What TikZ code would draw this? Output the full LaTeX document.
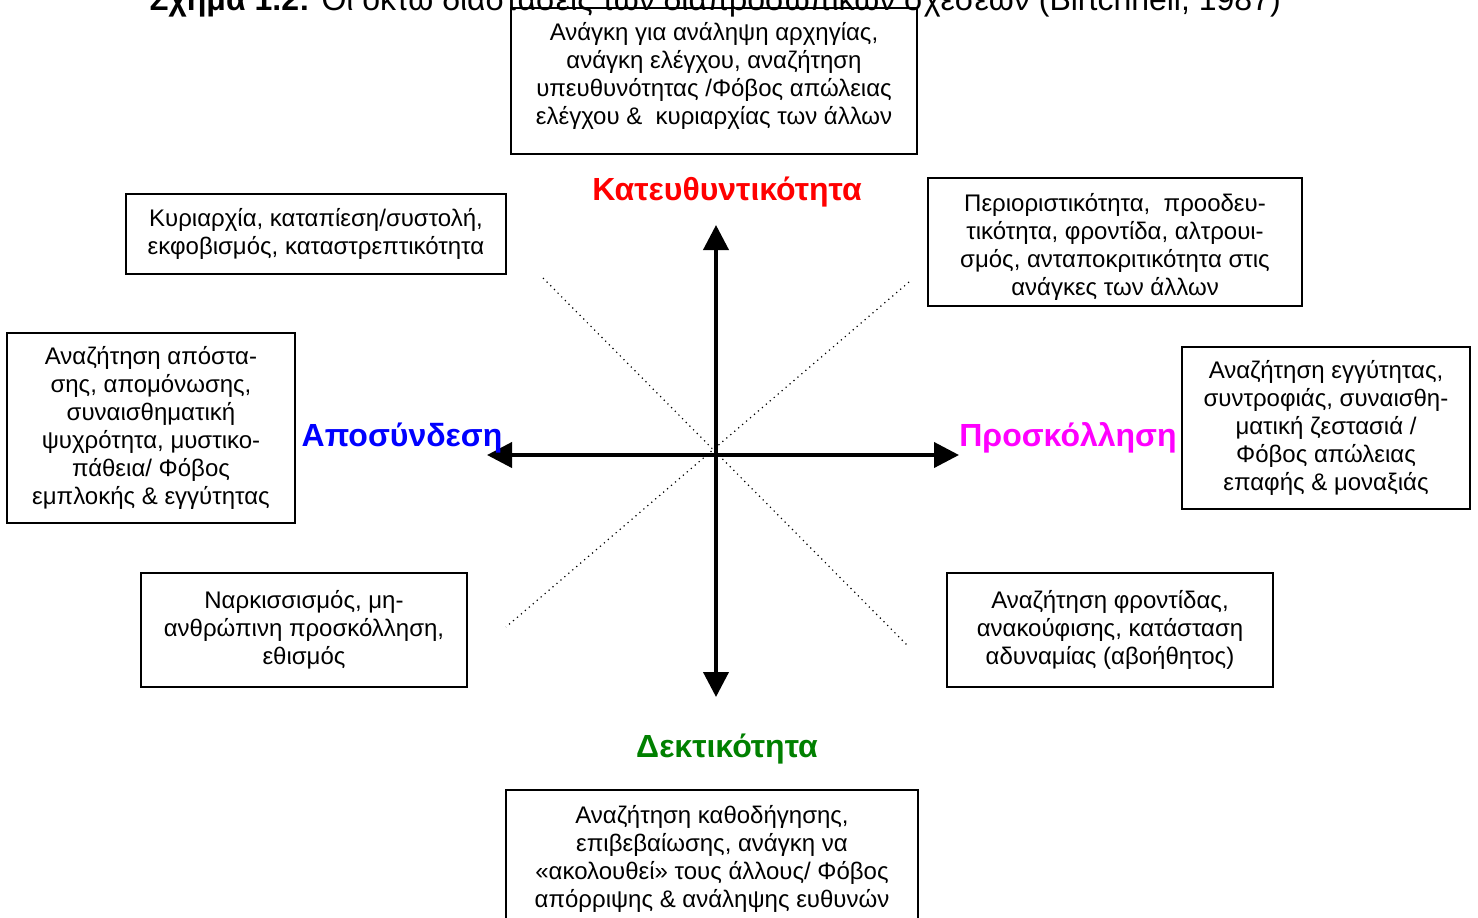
\documentclass[tikz,border=0pt]{standalone}
\usepackage{fontspec}
\setmainfont{Liberation Sans}
\usepackage{tikz}
\usetikzlibrary{arrows.meta,positioning}

\definecolor{dirred}{RGB}{255,0,0}
\definecolor{detblue}{RGB}{0,0,255}
\definecolor{attmagenta}{RGB}{255,0,255}
\definecolor{recgreen}{RGB}{0,128,0}

\begin{document}
\begin{tikzpicture}[
  x=0.5pt, y=-0.5pt,
  facet/.style={draw,line width=0.9pt,align=center,inner sep=2pt,font=\fontsize{12}{14}\selectfont},
  pole/.style={font=\fontsize{16}{18}\selectfont\bfseries},
  axis/.style={{Triangle[length=12.5pt,width=12.5pt]}-{Triangle[length=12.5pt,width=12.5pt]},line width=2pt},
  ray/.style={-{Triangle[length=12.5pt,width=12.5pt]},line width=2pt},
  diag/.style={dotted,line width=0.6pt}
]
\fill[white] (0,0) rectangle (1478,917);
\useasboundingbox (0,0) rectangle (1478,917);

% title, cut by the top edge
\node[anchor=base,font=\fontsize{16}{18}\selectfont] (title) at (715,10) {\textbf{Σχήμα 1.2:} Οι οκτώ διαστάσεις των διαπροσωπικών σχέσεων (Birtchnell, 1987)};

% centre and dotted diagonals
\coordinate (O) at (716,455);
\coordinate (nw) at (543,278);
\coordinate (se) at (909,647);
\coordinate (ne) at (909,282);
\coordinate (sw) at (506,627);
\draw[diag] (nw) -- (se);
\draw[diag] (ne) -- (sw);

% axes
\coordinate (up) at (716,225);
\coordinate (down) at (716,697);
\coordinate (left) at (487,455);
\coordinate (right) at (959,455);
\draw[ray] (O) -- (up);
\draw[ray] (O) -- (down);
\draw[axis] (left) -- (right);

% poles
\node[pole,text=dirred] (dir) at (727,192) {Κατευθυντικότητα};
\node[pole,text=recgreen] (rec) at (727,749) {Δεκτικότητα};
\node[pole,text=detblue] (det) at (402,438) {Αποσύνδεση};
\node[pole,text=attmagenta] (att) at (1068,438) {Προσκόλληση};

% boxes
\node[facet,minimum width=203pt,minimum height=73pt] (dirbox) at (714,81)
  {Ανάγκη για ανάληψη αρχηγίας,\\ανάγκη ελέγχου, αναζήτηση\\υπευθυνότητας /Φόβος απώλειας\\ελέγχου \&\ \ κυριαρχίας των άλλων\\[-6pt]\mbox{}};
\node[facet,minimum width=190pt,minimum height=40pt] (nwbox) at (316,234)
  {Κυριαρχία, καταπίεση/συστολή,\\εκφοβισμός, καταστρεπτικότητα};
\node[facet,minimum width=187pt,minimum height=64pt] (nebox) at (1115,242)
  {\mbox{}\\Περιοριστικότητα,\ \ προοδευ-\\τικότητα, φροντίδα, αλτρουι-\\σμός, ανταποκριτικότητα στις\\ανάγκες των άλλων};
\node[facet,minimum width=144pt,minimum height=95pt] (detbox) at (151,428)
  {Αναζήτηση απόστα-\\σης, απομόνωσης,\\συναισθηματική\\ψυχρότητα, μυστικο-\\πάθεια/ Φόβος\\εμπλοκής \& εγγύτητας};
\node[facet,minimum width=144pt,minimum height=81pt] (attbox) at (1326,428)
  {Αναζήτηση εγγύτητας,\\συντροφιάς, συναισθη-\\ματική ζεστασιά /\\Φόβος απώλειας\\επαφής \& μοναξιάς};
\node[facet,minimum width=163pt,minimum height=57pt] (swbox) at (304,630)
  {Ναρκισσισμός, μη-\\ανθρώπινη προσκόλληση,\\εθισμός};
\node[facet,minimum width=163pt,minimum height=57pt] (sebox) at (1110,630)
  {Αναζήτηση φροντίδας,\\ανακούφισης, κατάσταση\\αδυναμίας (αβοήθητος)};
\node[facet,minimum width=206pt,minimum height=69pt,anchor=north] (recbox) at (712,789)
  {Αναζήτηση καθοδήγησης,\\επιβεβαίωσης, ανάγκη να\\«ακολουθεί» τους άλλους/ Φόβος\\απόρριψης \& ανάληψης ευθυνών};
\end{tikzpicture}
\end{document}
